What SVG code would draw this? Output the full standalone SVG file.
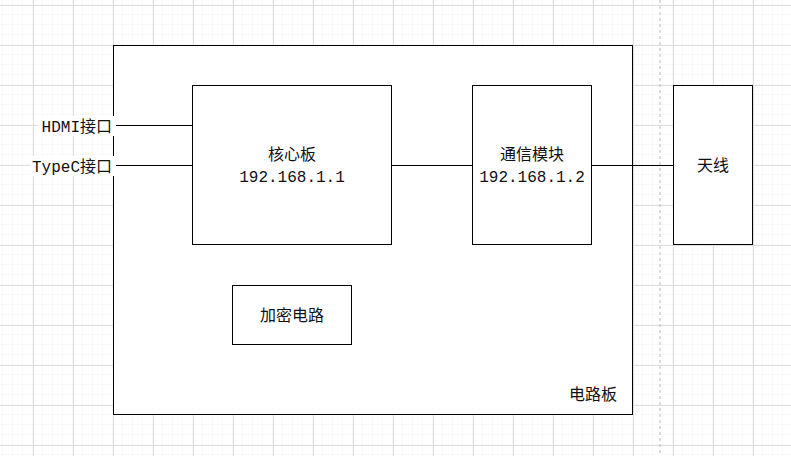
<svg xmlns="http://www.w3.org/2000/svg" width="791" height="456" viewBox="0 0 791 456">
<defs>
<pattern id="minor" x="3" y="5" width="10" height="10" patternUnits="userSpaceOnUse"><path d="M10 0V10M0 10H10" fill="none" stroke="#f2f2f2" stroke-width="1"/></pattern>
<pattern id="major" x="33" y="5" width="40" height="40" patternUnits="userSpaceOnUse"><path d="M0.5 0V40M0 0.5H40" fill="none" stroke="#e0e0e0" stroke-width="1"/></pattern>
</defs>
<style>
.b{fill:#fff;stroke:#000;stroke-width:1}
.t{font-family:"Liberation Mono","Noto Sans CJK SC",monospace;font-size:16px;fill:#111;text-anchor:middle}
.c{stroke:#000;stroke-width:1;fill:none}
</style>
<rect width="791" height="456" fill="#fff"/>
<rect width="791" height="456" fill="url(#minor)"/>
<rect width="791" height="456" fill="url(#major)"/>
<line x1="660" y1="0" x2="660" y2="456" stroke="#bbb" stroke-dasharray="3 3"/>
<g id="board"><rect class="b" x="113.5" y="45.5" width="519" height="369"/><text class="t" x="593" y="400">电路板</text></g>
<g id="core"><rect class="b" x="192.5" y="85.5" width="199" height="159"/><text class="t" x="292" y="160">核心板</text><text class="t" x="292" y="182">192.168.1.1</text></g>
<g id="comm"><rect class="b" x="472.5" y="85.5" width="119" height="159"/><text class="t" x="532" y="160">通信模块</text><text class="t" x="532" y="182">192.168.1.2</text></g>
<g id="antenna"><rect class="b" x="673.5" y="85.5" width="79" height="159"/><text class="t" x="713" y="171">天线</text></g>
<g id="crypto"><rect class="b" x="232.5" y="285.5" width="119" height="59"/><text class="t" x="292" y="321">加密电路</text></g>
<g id="connectors">
<line class="c" x1="113" y1="125.5" x2="192" y2="125.5"/>
<line class="c" x1="113" y1="165.5" x2="192" y2="165.5"/>
<line class="c" x1="392" y1="165.5" x2="472" y2="165.5"/>
<line class="c" x1="592" y1="165.5" x2="673" y2="165.5"/>
</g>
<g id="ports">
<rect x="38" y="116" width="78" height="20" fill="#fff"/>
<rect x="30" y="156" width="86" height="20" fill="#fff"/>
<text class="t" x="112" y="132" style="text-anchor:end">HDMI接口</text>
<text class="t" x="112" y="172" style="text-anchor:end">TypeC接口</text>
</g>
</svg>
